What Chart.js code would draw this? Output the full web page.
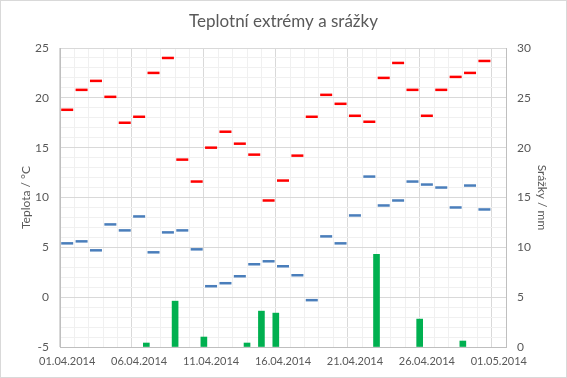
<!DOCTYPE html>
<html lang="cs">
<head>
    <meta charset="UTF-8">
    <title>Teplotní extrémy a srážky</title>
    <style>
        html, body { margin: 0; padding: 0; background: #fff; }
        #wrap { width: 567px; height: 378px; }
    </style>
</head>
<body>
    <div id="wrap">
        <canvas id="myChart" width="567" height="378"></canvas>
    </div>

    <script src="https://cdn.jsdelivr.net/npm/chart.js"></script>

    <script>
        // dny 1.4. - 30.4.2014
        let dayIndex = [0,1,2,3,4,5,6,7,8,9,10,11,12,13,14,15,16,17,18,19,20,21,22,23,24,25,26,27,28,29];
        let tMax = [18.8, 20.8, 21.7, 20.1, 17.5, 18.1, 22.5, 24.0, 13.8, 11.6,
                    15.0, 16.6, 15.4, 14.3, 9.7, 11.7, 14.2, 18.1, 20.3, 19.4,
                    18.2, 17.6, 22.0, 23.5, 20.8, 18.2, 20.8, 22.1, 22.5, 23.7];
        let tMin = [5.4, 5.6, 4.7, 7.3, 6.7, 8.1, 4.5, 6.5, 6.7, 4.8,
                    1.1, 1.4, 2.1, 3.3, 3.6, 3.1, 2.2, -0.3, 6.1, 5.4,
                    8.2, 12.1, 9.2, 9.7, 11.6, 11.3, 11.0, 9.0, 11.2, 8.8];
        let srazky = [0, 0, 0, 0, 0, 0.4, 0, 4.6, 0, 1.0,
                      0, 0, 0.4, 3.6, 3.4, 0, 0, 0, 0, 0,
                      0, 9.3, 0, 0, 2.8, 0, 0, 0.6, 0, 0];
        let xTickLabels = ['01.04.2014', '06.04.2014', '11.04.2014', '16.04.2014', '21.04.2014', '26.04.2014', '01.05.2014'];

        const textColor = '#595959';
        const majorGrid = '#d9d9d9';
        const minorGrid = '#f0f0f0';

        Chart.defaults.font.family = 'Lato, "Open Sans", sans-serif';
        Chart.defaults.color = textColor;

        const chartBorder = {
            id: 'chartBorder',
            beforeDraw(chart) {
                const c = chart.ctx;
                c.save();
                c.fillStyle = '#fff';
                c.fillRect(0, 0, chart.width, chart.height);
                c.strokeStyle = '#d9d9d9';
                c.lineWidth = 1;
                c.strokeRect(0.5, 0.5, chart.width - 1, chart.height - 1);
                c.restore();
            }
        };

        function showChart() {
            const ctx = document.getElementById('myChart');

            // sloupce srážek jen pro dny, kdy pršelo
            let barData = dayIndex
                .filter(i => srazky[i] > 0)
                .map(i => ({ x: i + 0.5, y: srazky[i] }));

            let datasets = [
                {
                    type: 'scatter',
                    label: 'Max',
                    data: dayIndex.map(i => ({ x: i, y: tMax[i] })),
                    pointStyle: 'line',
                    pointRadius: 6,
                    pointHoverRadius: 6,
                    borderColor: '#ff0000',
                    pointBorderWidth: 2.5,
                    yAxisID: 'y'
                },
                {
                    type: 'scatter',
                    label: 'Min',
                    data: dayIndex.map(i => ({ x: i, y: tMin[i] })),
                    pointStyle: 'line',
                    pointRadius: 6,
                    pointHoverRadius: 6,
                    borderColor: '#4a7ebb',
                    pointBorderWidth: 2.5,
                    yAxisID: 'y'
                },
                {
                    type: 'bar',
                    label: 'Srážky',
                    data: barData,
                    backgroundColor: '#00b050',
                    barThickness: 6,
                    yAxisID: 'y1'
                }
            ];

            let options = {
                responsive: false,
                animation: false,
                events: [],
                layout: { padding: 0 },
                plugins: {
                    legend: { display: false },
                    tooltip: { enabled: false },
                    title: {
                        display: true,
                        text: 'Teplotní extrémy a srážky',
                        color: textColor,
                        font: { size: 17, weight: 'normal', lineHeight: 1.2 },
                        padding: { top: 11, bottom: 16.6 }
                    }
                },
                scales: {
                    x: {
                        type: 'linear',
                        min: 0,
                        max: 30,
                        afterFit: s => { s.height = 31; },
                        border: { color: '#bfbfbf' },
                        grid: {
                            drawTicks: false,
                            color: c => (c.tick && c.tick.value % 5 === 0) ? majorGrid : minorGrid
                        },
                        ticks: {
                            stepSize: 1,
                            autoSkip: false,
                            maxRotation: 0,
                            padding: 8,
                            font: { size: 11 },
                            callback: v => (v % 5 === 0) ? xTickLabels[v / 5] : ''
                        }
                    },
                    y: {
                        position: 'left',
                        min: -5,
                        max: 25,
                        afterFit: s => { s.width = 60; },
                        border: { color: '#bfbfbf' },
                        grid: {
                            drawTicks: false,
                            color: c => (c.tick && c.tick.value % 5 === 0) ? majorGrid : minorGrid
                        },
                        ticks: {
                            stepSize: 1,
                            autoSkip: false,
                            padding: 11,
                            font: { size: 12 },
                            callback: v => (v % 5 === 0) ? v : ''
                        },
                        title: {
                            display: true,
                            text: 'Teplota / °C',
                            color: textColor,
                            font: { size: 12 },
                            padding: { top: 19, bottom: 0 }
                        }
                    },
                    y1: {
                        position: 'right',
                        min: 0,
                        max: 30,
                        afterFit: s => { s.width = 61; },
                        border: { color: '#bfbfbf' },
                        grid: { drawOnChartArea: false, drawTicks: false },
                        ticks: {
                            stepSize: 5,
                            padding: 11,
                            font: { size: 12 }
                        },
                        title: {
                            display: true,
                            text: 'Srážky / mm',
                            color: textColor,
                            font: { size: 12 },
                            padding: { top: 18, bottom: 0 }
                        }
                    }
                }
            };

            new Chart(ctx, {
                type: 'scatter',
                data: { datasets: datasets },
                options: options,
                plugins: [chartBorder]
            });
        }

        showChart();
    </script>
</body>
</html>
